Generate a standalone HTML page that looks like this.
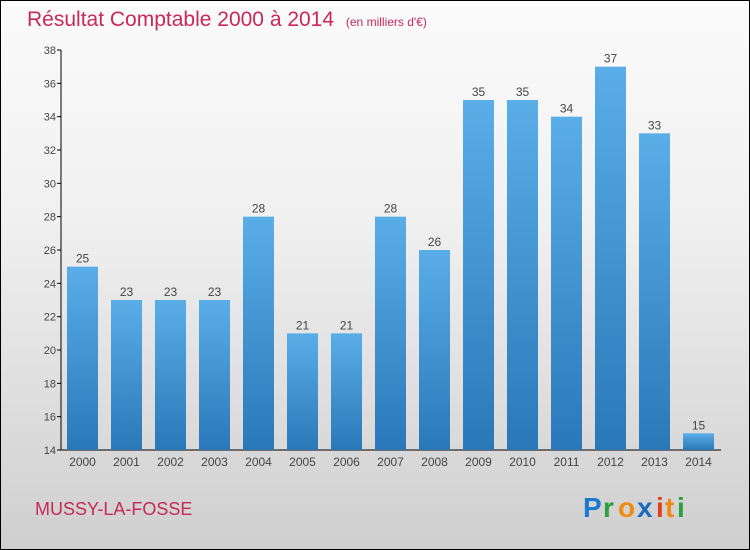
<!DOCTYPE html>
<html><head><meta charset="utf-8"><style>
body{margin:0;}
#c{width:748px;height:548px;border:1px solid #000;position:relative;background:linear-gradient(#fbfbfb,#f0f0f0 40%,#cfcfcf);font-family:"Liberation Sans",sans-serif;overflow:hidden}
</style></head><body>
<div id="c">
<svg width="748" height="548" id="svg">
<defs><linearGradient id="bg" x1="0" y1="0" x2="0" y2="1"><stop offset="0" stop-color="#5aaee8"/><stop offset="1" stop-color="#2a78b8"/></linearGradient></defs>
<text x="26" y="25" font-size="21" fill="#c8285a" style="font-weight:300">Résultat Comptable 2000 à 2014 <tspan font-size="12" dx="6">(en milliers d'€)</tspan></text>
<text x="34" y="514" font-size="18" fill="#c8285a">MUSSY-LA-FOSSE</text>
<g font-size="28" font-weight="bold">
<text x="582" y="516" fill="#1a7ad0">P</text><text x="602" y="516" fill="#2aa040">r</text><text x="617" y="516" fill="#f08a10">o</text><text x="636" y="516" fill="#1a6cc0">x</text><text x="655" y="516" fill="#e04020">i</text><text x="664" y="516" fill="#f08a10">t</text><text x="676" y="516" fill="#2aa040">i</text>
</g>
<g id="plot"></g>
</svg>
</div>
<script>
const categories=["2000","2001","2002","2003","2004","2005","2006","2007","2008","2009","2010","2011","2012","2013","2014"];
const values=[25,23,23,23,28,21,21,28,26,35,35,34,37,33,15];
const yTicks=[14,16,18,20,22,24,26,28,30,32,34,36,38];
const yMin=14,yMax=38,plotTop=49,plotBottom=449,plotLeft=60;
const yScale=v=>plotBottom-(v-yMin)/(yMax-yMin)*(plotBottom-plotTop);
const xScale=i=>66+i*44;
const g=document.getElementById('plot');
const NS="http://www.w3.org/2000/svg";
function mk(t,a){const e=document.createElementNS(NS,t);for(const k in a)e.setAttribute(k,a[k]);g.appendChild(e);return e;}
let ax=mk('line',{x1:plotLeft,y1:plotTop,x2:plotLeft,y2:plotBottom,stroke:'#000'});


let xa=mk('line',{x1:plotLeft,y1:plotBottom,x2:720,y2:plotBottom,stroke:'#000'});


yTicks.forEach(t=>{
 const l=mk('line',{x1:plotLeft-4,y1:yScale(t),x2:plotLeft,y2:yScale(t),stroke:'#000'});
 
 
 const tx=mk('text',{x:plotLeft-5,y:yScale(t)+4,'font-size':11,fill:'#444','text-anchor':'end'});
 tx.textContent=t;
 
 
});
values.forEach((v,i)=>{
 const r=mk('rect',{x:xScale(i),y:yScale(v),width:31,height:plotBottom-yScale(v),fill:'url(#bg)'});
 
 
 const vl=mk('text',{x:xScale(i)+15.5,y:yScale(v)-4,'font-size':12,fill:'#444','text-anchor':'middle'});
 vl.textContent=v;
 
 
 const cl=mk('text',{x:xScale(i)+15.5,y:plotBottom+16,'font-size':12,fill:'#444','text-anchor':'middle'});
 cl.textContent=categories[i];
 
 
});
</script>
</body></html>
